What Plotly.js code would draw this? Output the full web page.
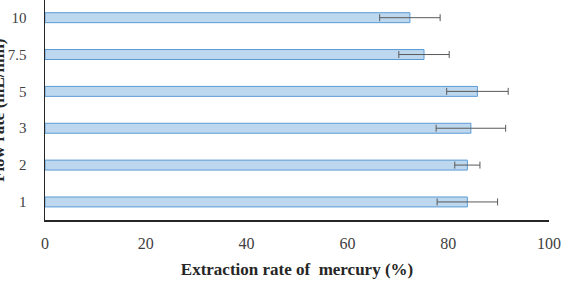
<!DOCTYPE html>
<html>
<head>
<meta charset="utf-8">
<script src="https://cdn.plot.ly/plotly-3.0.1.min.js"></script>
<style>html,body{margin:0;padding:0;background:#fff;}#chart{width:564px;height:281px;}</style>
</head>
<body>
<div id="chart"></div>
<script>
const flowRates = ["1", "2", "3", "5", "7.5", "10"];
const extraction = [83.8, 83.8, 84.5, 85.8, 75.2, 72.4];
const errors = [6.0, 2.5, 6.9, 6.1, 5.0, 6.0];
const xTicks = [0, 20, 40, 60, 80, 100];

const trace = {
  type: "bar",
  orientation: "h",
  x: extraction,
  y: flowRates,
  width: 0.27,
  marker: {color: "#BDD7EE", line: {color: "#5B9BD5", width: 1}},
  error_x: {type: "data", array: errors, visible: true, color: "#595959", thickness: 1, width: 3.5}
};

const layout = {
  width: 564, height: 281,
  margin: {l: 45, r: 15, t: 0, b: 61},
  paper_bgcolor: "#fff", plot_bgcolor: "#fff",
  showlegend: false,
  font: {family: "Liberation Serif, Times New Roman, serif", size: 16, color: "#404040"},
  xaxis: {
    range: [0, 100], tickvals: xTicks, ticktext: xTicks.map(String),
    showgrid: false, zeroline: false, showline: true, linecolor: "#262626", linewidth: 1.5,
    ticks: "", ticklabelstandoff: 8,
    title: {text: "<b>Extraction rate of  mercury (%)</b>", font: {size: 17, color: "#262626"}, standoff: 12}
  },
  yaxis: {
    type: "category", categoryorder: "array", categoryarray: flowRates,
    range: [-0.49, 5.48],
    showgrid: false, zeroline: false, showline: true, linecolor: "#262626", linewidth: 1.5,
    ticks: "", ticklabelstandoff: 14, tickfont: {size: 15}
  },
  annotations: [{
    text: "<b>Flow rate (mL/min)</b>", textangle: -90,
    xref: "paper", yref: "paper", x: 0, y: 0.5,
    xshift: -47, xanchor: "center", yanchor: "middle", showarrow: false,
    font: {size: 17, color: "#262626"}
  }]
};

Plotly.newPlot("chart", [trace], layout, {displayModeBar: false, staticPlot: true});
</script>
</body>
</html>
